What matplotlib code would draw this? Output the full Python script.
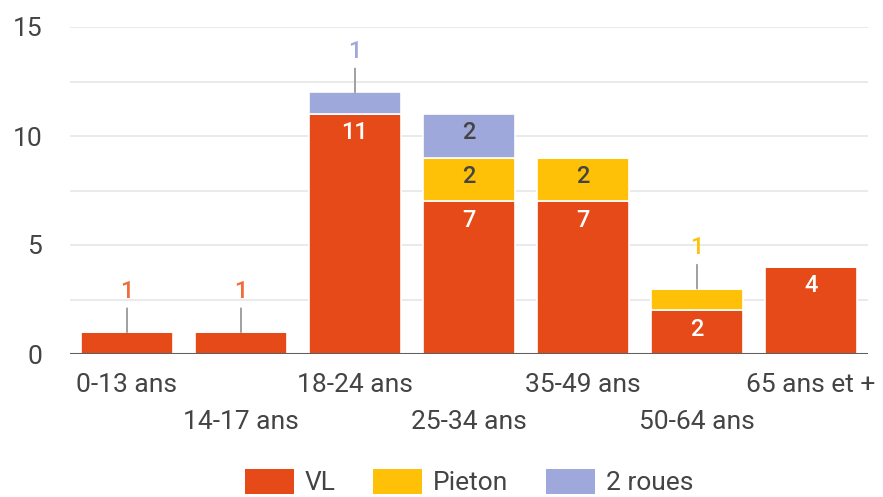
import matplotlib
matplotlib.use("Agg")
import matplotlib.pyplot as plt
from matplotlib.transforms import blended_transform_factory
from matplotlib.patches import Patch
import numpy as np

plt.rcParams['font.family'] = ['Roboto', 'DejaVu Sans']

categories = ["0-13 ans", "14-17 ans", "18-24 ans", "25-34 ans", "35-49 ans", "50-64 ans", "65 ans et +"]
series_names = ["VL", "Pieton", "2 roues"]
vl = [1, 1, 11, 7, 7, 2, 4]
pieton = [0, 0, 0, 2, 2, 1, 0]
deux_roues = [0, 0, 1, 2, 0, 0, 0]
y_ticks = [0, 5, 10, 15]

colors = ["#E64A19", "#FFC107", "#9FA8DA"]
inside_text = ["white", "#444444", "#444444"]
outside_text = ["#F26B3A", "#FFC107", "#9FA8DA"]

W, H = 883, 497
fig = plt.figure(figsize=(W / 100, H / 100), dpi=100)
ax = fig.add_axes([70 / W, (H - 354) / H, 798 / W, 327 / H])

x = np.arange(len(categories))
bottom = np.zeros(len(categories))
data = [vl, pieton, deux_roues]
for si, vals in enumerate(data):
    vals = np.array(vals, dtype=float)
    ax.bar(x, vals, 0.815, bottom=bottom, color=colors[si], edgecolor="white",
           linewidth=1.2, zorder=3)
    for i, v in enumerate(vals):
        if v <= 0:
            continue
        top = bottom[i] + v
        if v >= 1.5:
            ax.annotate(f"{int(v)}", xy=(x[i], top), xytext=(0, -13.5),
                        textcoords="offset points", ha="center", va="center",
                        fontsize=17, fontweight="medium", color=inside_text[si], zorder=5)
        else:
            ax.annotate(f"{int(v)}", xy=(x[i], top), xytext=(0, 29.5),
                        textcoords="offset points", ha="center", va="center",
                        fontsize=17, fontweight="medium", color=outside_text[si], zorder=5,
                        arrowprops=dict(arrowstyle="-", color="#999999", lw=1.3,
                                        shrinkA=2, shrinkB=0))
    bottom = bottom + vals

ax.set_xlim(-0.5, len(categories) - 0.5)
ax.set_ylim(0, 15)
ax.set_yticks(y_ticks)
ax.set_yticklabels([str(t) for t in y_ticks], fontsize=19, color="#444444")
ax.set_yticks(np.arange(0, 15.1, 2.5), minor=True)
ax.grid(axis="y", which="both", color="#e8e8e8", linewidth=1.3, zorder=0)
ax.tick_params(axis="y", which="both", length=0, pad=20)
ax.set_xticks([])
for s in ax.spines.values():
    s.set_visible(False)
ax.axhline(0, color="#5f5f5f", lw=2.2, zorder=4)

trans = blended_transform_factory(ax.transData, fig.transFigure)
for i, c in enumerate(categories):
    ypix = 385 if i % 2 == 0 else 422
    ax.text(x[i], (H - ypix) / H, c, transform=trans, ha="center", va="center",
            fontsize=19, color="#444444", clip_on=False)

handles = [Patch(facecolor=colors[k], edgecolor="none") for k in range(3)]
fig.legend(handles, series_names, loc="center", bbox_to_anchor=(469 / W, (H - 482) / H),
           ncol=3, frameon=False, fontsize=19, labelcolor="#444444",
           handlelength=1.85, handleheight=1.1, handletextpad=0.4, columnspacing=1.45,
           borderaxespad=0, borderpad=0)

fig.savefig("out.png", dpi=100)
